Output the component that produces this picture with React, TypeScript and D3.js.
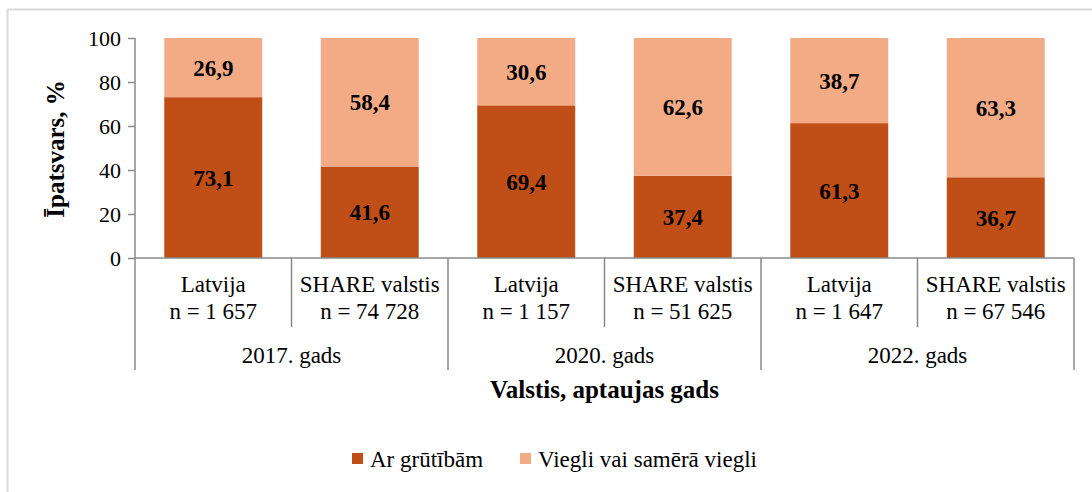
import { useEffect, useRef } from "react";
import * as d3 from "d3";

// --- dados do gráfico
const countries = ["Latvija", "SHARE valstis", "Latvija", "SHARE valstis", "Latvija", "SHARE valstis"];
const sampleSizes = ["n = 1 657", "n = 74 728", "n = 1 157", "n = 51 625", "n = 1 647", "n = 67 546"];
const years = ["2017. gads", "2020. gads", "2022. gads"];
const withDifficulty = [73.1, 41.6, 69.4, 37.4, 61.3, 36.7];
const easily = [26.9, 58.4, 30.6, 62.6, 38.7, 63.3];
const seriesNames = ["Ar grūtībām", "Viegli vai samērā viegli"];
const yTicks = [0, 20, 40, 60, 80, 100];

const colors = ["#BF4F17", "#F2AB85"];
const axisColor = "#898989";
const font = "Liberation Serif";

export default function App() {
  const ref = useRef<SVGSVGElement>(null);

  useEffect(() => {
    const W = 1092;
    const H = 492;
    const svg = d3.select(ref.current).attr("width", W).attr("height", H);
    svg.selectAll("*").remove();

    // moldura
    svg.append("rect")
      .attr("x", 7.5).attr("y", 9.5)
      .attr("width", W + 20).attr("height", H + 20)
      .attr("fill", "#fff")
      .attr("stroke", "#d9d9d9").attr("stroke-width", 2);

    const left = 135, right = 1074, top = 38, bottom = 258;
    const idx = countries.map((_, i) => String(i));

    const x = d3.scaleBand().domain(idx).range([left, right]).paddingInner(0.374).paddingOuter(0.187);
    const step = (right - left) / countries.length;
    const y = d3.scaleLinear().domain([0, 100]).range([bottom, top]);

    // --- barras empilhadas
    const rows = idx.map((k, i) => ({ k, a: withDifficulty[i], b: easily[i] }));
    const stack = d3.stack<any>().keys(["a", "b"])(rows);

    stack.forEach((layer, li) => {
      const g = svg.append("g");
      g.selectAll("rect")
        .data(layer)
        .join("rect")
        .attr("x", d => x(d.data.k)!)
        .attr("width", x.bandwidth())
        .attr("y", d => y(d[1]))
        .attr("height", d => y(d[0]) - y(d[1]))
        .attr("fill", colors[li]);
      g.selectAll("text")
        .data(layer)
        .join("text")
        .attr("x", d => x(d.data.k)! + x.bandwidth() / 2)
        .attr("y", d => (y(d[0]) + y(d[1])) / 2)
        .attr("dy", "0.35em")
        .attr("text-anchor", "middle")
        .attr("font-family", font)
        .attr("font-size", 23)
        .attr("font-weight", "bold")
        .text(d => d3.format(".1f")(d[1] - d[0]).replace(".", ","));
    });

    // --- eixo y
    const yAxis = svg.append("g").attr("transform", `translate(${left},0)`)
      .call(d3.axisLeft(y).tickValues(yTicks).tickSize(7).tickPadding(7));
    yAxis.select(".domain").remove();
    yAxis.selectAll("line").attr("stroke", axisColor).attr("stroke-width", 1.5);
    yAxis.attr("font-family", font).attr("font-size", 22);
    yAxis.selectAll("text").attr("fill", "#000");
    svg.append("line")
      .attr("x1", left).attr("x2", left).attr("y1", top).attr("y2", 370)
      .attr("stroke", axisColor).attr("stroke-width", 1.5);

    // --- eixo x (linha + separadores)
    svg.append("line")
      .attr("x1", left).attr("x2", right).attr("y1", bottom).attr("y2", bottom)
      .attr("stroke", axisColor).attr("stroke-width", 1.5);
    for (let i = 1; i <= countries.length; i++) {
      const sx = left + i * step;
      const isGroup = i % 2 === 0;
      svg.append("line")
        .attr("x1", sx).attr("x2", sx).attr("y1", bottom).attr("y2", isGroup ? 370 : 327)
        .attr("stroke", axisColor).attr("stroke-width", 1.5);
    }

    const labels = svg.append("g").attr("font-family", font).attr("font-size", 23).attr("text-anchor", "middle");
    idx.forEach((k, i) => {
      const cx = left + (i + 0.5) * step;
      labels.append("text").attr("x", cx).attr("y", 292).text(countries[i]);
      labels.append("text").attr("x", cx).attr("y", 319).text(sampleSizes[i]);
    });
    years.forEach((yr, i) => {
      labels.append("text").attr("x", left + (i * 2 + 1) * step).attr("y", 363).text(yr);
    });

    // --- títulos
    svg.append("text")
      .attr("x", (left + right) / 2).attr("y", 398)
      .attr("text-anchor", "middle")
      .attr("font-family", font)
      .attr("font-size", 25).attr("font-weight", "bold")
      .text("Valstis, aptaujas gads");
    svg.append("text")
      .attr("transform", `translate(64,149) rotate(-90)`)
      .attr("text-anchor", "middle")
      .attr("font-family", font)
      .attr("font-size", 25).attr("font-weight", "bold")
      .text("Īpatsvars, %");

    // --- legenda
    const legendPos = [352, 520];
    seriesNames.forEach((name, i) => {
      svg.append("rect")
        .attr("x", legendPos[i]).attr("y", 453).attr("width", 11).attr("height", 11)
        .attr("fill", colors[i]);
      svg.append("text")
        .attr("x", legendPos[i] + 18).attr("y", 467)
        .attr("font-family", font)
        .attr("font-size", 23)
        .text(name);
    });
  }, []);

  return <svg ref={ref} style={{ position: "absolute", left: 0, top: 0 }} />;
}
